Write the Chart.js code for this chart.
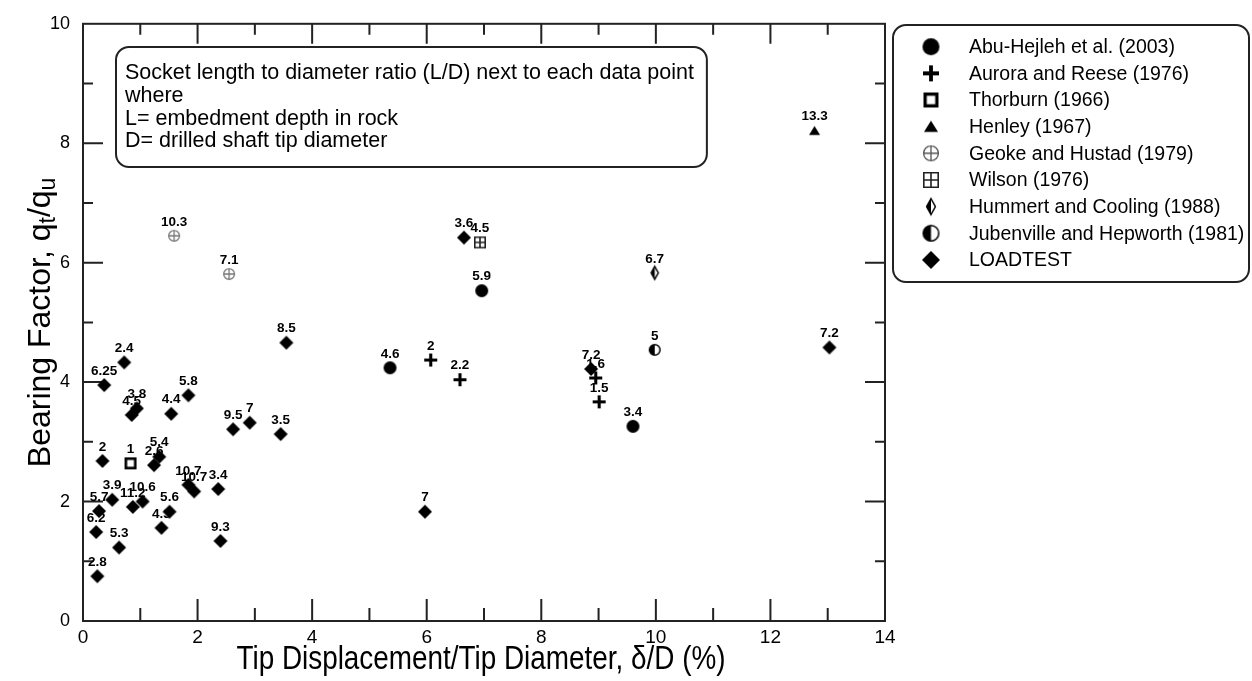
<!DOCTYPE html>
<html>
<head>
<meta charset="utf-8">
<script src="https://cdn.jsdelivr.net/npm/chart.js@4.4.0/dist/chart.umd.min.js"></script>
<style>
  html, body { margin: 0; padding: 0; background: #fff; }
</style>
</head>
<body>
<canvas id="myChart" width="1252" height="681"></canvas>
<script>
// axis ticks
const xTicks = [0, 2, 4, 6, 8, 10, 12, 14];
const yTicks = [0, 2, 4, 6, 8, 10];

// series (x = tip displacement / diameter %, y = bearing factor, ld = L/D label)
const abuX = [5.36, 6.96, 9.60];
const abuY = [4.24, 5.53, 3.26];
const abuLD = ['4.6', '5.9', '3.4'];

const auroraX = [6.07, 6.58, 8.95, 9.01];
const auroraY = [4.37, 4.04, 4.07, 3.67];
const auroraLD = ['2', '2.2', '1.6', '1.5'];

const thorburnX = [0.83];
const thorburnY = [2.64];
const thorburnLD = ['1'];

const henleyX = [12.77];
const henleyY = [8.21];
const henleyLD = ['13.3'];

const geokeX = [1.59, 2.55];
const geokeY = [6.45, 5.81];
const geokeLD = ['10.3', '7.1'];

const wilsonX = [6.93];
const wilsonY = [6.34];
const wilsonLD = ['4.5'];

const hummertX = [9.98];
const hummertY = [5.83];
const hummertLD = ['6.7'];

const jubenX = [9.98];
const jubenY = [4.54];
const jubenLD = ['5'];

const loadX = [0.72, 0.37, 1.84, 0.94, 0.85, 1.54, 2.62, 2.91, 3.45, 3.55,
               0.34, 1.33, 1.24, 1.84, 1.94, 2.36, 0.51, 0.28, 0.87, 1.04,
               1.51, 1.37, 0.23, 0.63, 2.40, 0.25, 5.97, 6.65, 8.87, 13.03];
const loadY = [4.33, 3.95, 3.78, 3.56, 3.45, 3.47, 3.21, 3.32, 3.13, 4.66,
               2.68, 2.75, 2.61, 2.28, 2.17, 2.21, 2.03, 1.84, 1.91, 2.00,
               1.83, 1.56, 1.49, 1.23, 1.34, 0.75, 1.83, 6.42, 4.22, 4.58];
const loadLD = ['2.4', '6.25', '5.8', '3.8', '4.5', '4.4', '9.5', '7', '3.5', '8.5',
                '2', '5.4', '2.6', '10.7', '10.7', '3.4', '3.9', '5.7', '11.2', '10.6',
                '5.6', '4.3', '6.2', '5.3', '9.3', '2.8', '7', '3.6', '7.2', '7.2'];

const seriesNames = ['Abu-Hejleh et al. (2003)', 'Aurora and Reese (1976)', 'Thorburn (1966)',
  'Henley (1967)', 'Geoke and Hustad (1979)', 'Wilson (1976)', 'Hummert and Cooling (1988)',
  'Jubenville and Hepworth (1981)', 'LOADTEST'];
const markerKinds = ['circle', 'plus', 'square', 'triangle', 'circlePlus', 'squarePlus',
  'thinDiamond', 'halfCircle', 'diamond'];

var FONT = "'Liberation Sans', Arial, Helvetica, sans-serif";

// little canvases used as point styles
function makeMarker(kind, s) {
  var c = document.createElement('canvas');
  var n = Math.ceil(s) + 4;
  c.width = n; c.height = n;
  var g = c.getContext('2d');
  var m = n / 2, r = s / 2;
  g.fillStyle = '#000';
  g.strokeStyle = '#000';
  g.lineJoin = 'miter';
  if (kind == 'circle') {
    g.beginPath(); g.arc(m, m, r, 0, Math.PI * 2); g.fill();
  } else if (kind == 'plus') {
    g.lineWidth = Math.max(2.6, s * 0.24);
    g.beginPath();
    g.moveTo(m - r, m); g.lineTo(m + r, m);
    g.moveTo(m, m - r); g.lineTo(m, m + r);
    g.stroke();
  } else if (kind == 'square') {
    var lw = Math.max(2.4, s * 0.22);
    g.lineWidth = lw;
    g.strokeRect(m - r + lw / 2, m - r + lw / 2, s - lw, s - lw);
  } else if (kind == 'triangle') {
    g.beginPath();
    g.moveTo(m, m - r * 0.85);
    g.lineTo(m + r, m + r * 0.75);
    g.lineTo(m - r, m + r * 0.75);
    g.closePath(); g.fill();
  } else if (kind == 'circlePlus') {
    g.strokeStyle = s > 14 ? '#555' : '#777';
    g.lineWidth = 1.3;
    g.beginPath(); g.arc(m, m, r - 0.6, 0, Math.PI * 2);
    g.moveTo(m - r, m); g.lineTo(m + r, m);
    g.moveTo(m, m - r); g.lineTo(m, m + r);
    g.stroke();
  } else if (kind == 'squarePlus') {
    g.strokeStyle = '#222';
    g.lineWidth = 1.6;
    g.beginPath();
    g.rect(m - r + 0.8, m - r + 0.8, s - 1.6, s - 1.6);
    g.moveTo(m - r, m); g.lineTo(m + r, m);
    g.moveTo(m, m - r); g.lineTo(m, m + r);
    g.stroke();
  } else if (kind == 'thinDiamond') {
    var w = r * 0.55;
    g.beginPath();
    g.moveTo(m, m - r); g.lineTo(m - w, m); g.lineTo(m, m + r); g.closePath();
    g.fill();
    g.lineWidth = 1.5;
    g.beginPath();
    g.moveTo(m, m - r); g.lineTo(m + w, m); g.lineTo(m, m + r); g.lineTo(m - w, m); g.closePath();
    g.stroke();
  } else if (kind == 'halfCircle') {
    g.fillStyle = '#fff';
    g.beginPath(); g.arc(m, m, r - 0.7, 0, Math.PI * 2); g.fill();
    g.fillStyle = '#000';
    g.beginPath(); g.arc(m, m, r - 0.7, Math.PI / 2, Math.PI * 1.5); g.closePath(); g.fill();
    g.lineWidth = 1.5;
    g.beginPath(); g.arc(m, m, r - 0.7, 0, Math.PI * 2); g.stroke();
  } else if (kind == 'diamond') {
    g.beginPath();
    g.moveTo(m, m - r); g.lineTo(m + r, m); g.lineTo(m, m + r); g.lineTo(m - r, m);
    g.closePath(); g.fill();
  }
  return c;
}

var plotSizes = [13, 13, 12, 11, 12, 12, 13, 12, 14];
var legendSizes = [17, 16, 15, 14, 16, 16, 16, 17, 18];

function pts(xs, ys) {
  return xs.map(function (x, i) { return { x: x, y: ys[i] }; });
}

var seriesX = [abuX, auroraX, thorburnX, henleyX, geokeX, wilsonX, hummertX, jubenX, loadX];
var seriesY = [abuY, auroraY, thorburnY, henleyY, geokeY, wilsonY, hummertY, jubenY, loadY];
var seriesLD = [abuLD, auroraLD, thorburnLD, henleyLD, geokeLD, wilsonLD, hummertLD, jubenLD, loadLD];

var datasets = seriesNames.map(function (name, k) {
  return {
    label: name,
    data: pts(seriesX[k], seriesY[k]),
    ld: seriesLD[k],
    pointStyle: makeMarker(markerKinds[k], plotSizes[k]),
    pointRadius: 7,
    showLine: false
  };
});
var legendMarkers = markerKinds.map(function (k, i) { return makeMarker(k, legendSizes[i]); });

function roundBox(ctx, x, y, w, h, r) {
  ctx.beginPath();
  ctx.moveTo(x + r, y);
  ctx.lineTo(x + w - r, y);
  ctx.arcTo(x + w, y, x + w, y + r, r);
  ctx.lineTo(x + w, y + h - r);
  ctx.arcTo(x + w, y + h, x + w - r, y + h, r);
  ctx.lineTo(x + r, y + h);
  ctx.arcTo(x, y + h, x, y + h - r, r);
  ctx.lineTo(x, y + r);
  ctx.arcTo(x, y, x + r, y, r);
  ctx.closePath();
}

// frame with inward ticks on all four sides
var framePlugin = {
  id: 'frame',
  beforeDatasetsDraw: function (chart) {
    var ctx = chart.ctx, a = chart.chartArea;
    var xs = chart.scales.x, ys = chart.scales.y;
    ctx.save();
    ctx.strokeStyle = '#222';
    ctx.lineWidth = 2;
    ctx.strokeRect(a.left, a.top, a.right - a.left, a.bottom - a.top);
    ctx.beginPath();
    for (var v = xs.min + 1; v < xs.max; v++) {
      var px = xs.getPixelForValue(v);
      var major = v % 2 == 0;
      ctx.moveTo(px, a.bottom); ctx.lineTo(px, a.bottom - (major ? 22 : 13));
      ctx.moveTo(px, a.top); ctx.lineTo(px, a.top + (major ? 20 : 11));
    }
    for (var w = ys.min + 1; w < ys.max; w++) {
      var py = ys.getPixelForValue(w);
      var maj = w % 2 == 0;
      ctx.moveTo(a.left, py); ctx.lineTo(a.left + (maj ? 20 : 10), py);
      ctx.moveTo(a.right, py); ctx.lineTo(a.right - (maj ? 20 : 10), py);
    }
    ctx.stroke();
    ctx.restore();
  }
};

// L/D labels above every point
var labelPlugin = {
  id: 'ldLabels',
  afterDatasetsDraw: function (chart) {
    var ctx = chart.ctx;
    ctx.save();
    ctx.fillStyle = '#000';
    ctx.font = 'bold 13.5px ' + FONT;
    ctx.textAlign = 'center';
    ctx.textBaseline = 'middle';
    chart.data.datasets.forEach(function (ds, i) {
      chart.getDatasetMeta(i).data.forEach(function (el, j) {
        ctx.fillText(ds.ld[j], el.x, el.y - 14);
      });
    });
    ctx.restore();
  }
};

// titles, note box and legend
var decorPlugin = {
  id: 'decor',
  afterDraw: function (chart) {
    var ctx = chart.ctx, a = chart.chartArea;
    ctx.save();
    ctx.fillStyle = '#000';
    ctx.strokeStyle = '#222';

    // x title
    ctx.save();
    ctx.translate((a.left + a.right) / 2 - 3, 660);
    ctx.scale(0.82, 1);
    ctx.font = '34px ' + FONT;
    ctx.textAlign = 'center';
    ctx.textBaseline = 'middle';
    ctx.fillText('Tip Displacement/Tip Diameter, \u03b4/D (%)', 0, 0);
    ctx.restore();

    // y title with subscripts
    ctx.save();
    ctx.translate(41, (a.top + a.bottom) / 2);
    ctx.rotate(-Math.PI / 2);
    ctx.textBaseline = 'middle';
    var parts = [['Bearing Factor, q', 0], ['t', 1], ['/q', 0], ['u', 1]];
    var total = 0;
    parts.forEach(function (p) {
      ctx.font = (p[1] ? '23px ' : '32px ') + FONT;
      p.push(ctx.measureText(p[0]).width);
      total += p[2];
    });
    var cx = -total / 2;
    parts.forEach(function (p) {
      ctx.font = (p[1] ? '23px ' : '32px ') + FONT;
      ctx.fillText(p[0], cx, p[1] ? 8 : 0);
      cx += p[2];
    });
    ctx.restore();

    // note box, sized around its text
    var note = ['Socket length to diameter ratio (L/D) next to each data point', 'where',
      'L= embedment depth in rock', 'D= drilled shaft tip diameter'];
    ctx.font = '21.5px ' + FONT;
    var noteW = Math.max.apply(null, note.map(function (t) { return ctx.measureText(t).width; }));
    ctx.lineWidth = 2;
    roundBox(ctx, 116, 47, noteW + 22, 120, 13);
    ctx.fillStyle = '#fff'; ctx.fill();
    ctx.stroke();
    ctx.fillStyle = '#000';
    ctx.textAlign = 'left';
    ctx.textBaseline = 'middle';
    note.forEach(function (t, i) { ctx.fillText(t, 125, 73 + i * 22.8); });

    // legend
    roundBox(ctx, 893, 25, 356, 257, 13);
    ctx.stroke();
    ctx.font = '19.5px ' + FONT;
    chart.data.datasets.forEach(function (ds, i) {
      var y = 46.7 + i * 26.65;
      var mk = legendMarkers[i];
      ctx.drawImage(mk, 931 - mk.width / 2, y - mk.height / 2);
      ctx.fillText(ds.label, 969, y + 1);
    });
    ctx.restore();
  }
};

var chart = new Chart(document.getElementById('myChart').getContext('2d'), {
  type: 'scatter',
  data: { datasets: datasets },
  options: {
    responsive: false,
    animation: false,
    events: [],
    layout: { padding: { left: 0, right: 367, top: 17, bottom: 0 } },
    plugins: { legend: { display: false }, tooltip: { enabled: false } },
    scales: {
      x: {
        type: 'linear',
        min: xTicks[0],
        max: xTicks[xTicks.length - 1],
        afterBuildTicks: function (s) { s.ticks = xTicks.map(function (v) { return { value: v }; }); },
        afterFit: function (s) { s.height = 60; },
        grid: { display: false, drawTicks: false },
        border: { display: false },
        ticks: {
          color: '#000', padding: 5, maxRotation: 0, autoSkip: false,
          font: { family: "'Liberation Sans Narrow', " + FONT, size: 19 }
        }
      },
      y: {
        type: 'linear',
        min: yTicks[0],
        max: yTicks[yTicks.length - 1],
        afterBuildTicks: function (s) { s.ticks = yTicks.map(function (v) { return { value: v }; }); },
        afterFit: function (s) { s.width = 83; },
        grid: { display: false, drawTicks: false },
        border: { display: false },
        ticks: { color: '#000', padding: 13, font: { family: FONT, size: 18 } }
      }
    }
  },
  plugins: [framePlugin, labelPlugin, decorPlugin]
});
</script>
</body>
</html>
